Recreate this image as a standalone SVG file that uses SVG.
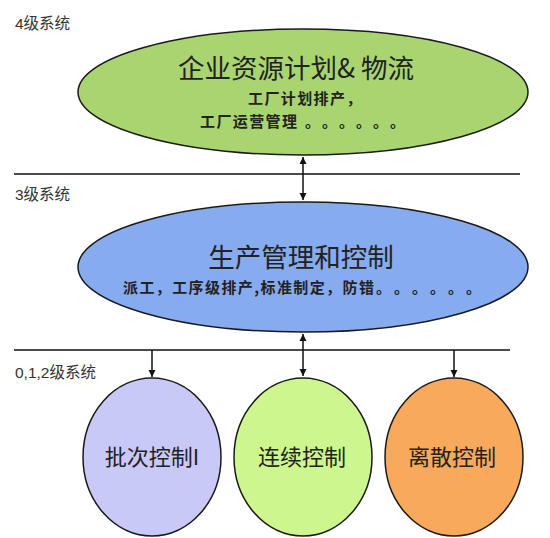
<svg xmlns="http://www.w3.org/2000/svg" width="550" height="538" viewBox="0 0 550 538">
<style>
.lvl{font-family:"Liberation Sans","Noto Sans CJK SC",sans-serif;font-size:15.5px;fill:#333}
.node{stroke:#1a1a1a;stroke-width:1.5}
.t{font-family:"Noto Sans CJK SC",sans-serif;fill:#222;text-anchor:middle}
.s{font-family:"Noto Sans CJK SC",sans-serif;fill:#222;font-size:15px;font-weight:bold;letter-spacing:1.4px}
.big{font-size:26.5px}
.circ{font-size:22px}
.sep{stroke:#111;stroke-width:1.5}
.con{stroke:#111;stroke-width:1.5;fill:none}
</style>
<defs>
<marker id="ah" viewBox="0 0 10 10" refX="10" refY="5" markerWidth="7" markerHeight="8" orient="auto-start-reverse" markerUnits="userSpaceOnUse">
<path d="M0,0 L10,5 L0,10 z" fill="#111"/>
</marker>
</defs>
<rect width="550" height="538" fill="#fff"/>
<g id="levels">
<text class="lvl" x="15" y="29">4级系统</text>
<text class="lvl" x="15" y="200">3级系统</text>
<text class="lvl" x="15" y="378">0,1,2级系统</text>
<line class="sep" x1="14" y1="174" x2="520" y2="174"/>
<line class="sep" x1="14" y1="350" x2="510" y2="350"/>
</g>
<g id="connectors">
<line class="con" x1="303" y1="157" x2="303" y2="200" marker-start="url(#ah)" marker-end="url(#ah)"/>
<line class="con" x1="303" y1="334" x2="303" y2="376" marker-start="url(#ah)" marker-end="url(#ah)"/>
<line class="con" x1="152" y1="350" x2="152" y2="377" marker-end="url(#ah)"/>
<line class="con" x1="454" y1="350" x2="454" y2="377" marker-end="url(#ah)"/>
</g>
<g id="erp">
<ellipse class="node" cx="303" cy="92" rx="225" ry="63" fill="#a9d571"/>
<text class="t big" x="296" y="78">企业资源计划&amp; 物流</text>
<text class="s" x="248" y="104">工厂计划排产，</text>
<text class="s" x="200" y="127">工厂运营管理<tspan x="305">。</tspan><tspan x="322">。</tspan><tspan x="339">。</tspan><tspan x="356">。</tspan><tspan x="373">。</tspan><tspan x="390">。</tspan></text>
</g>
<g id="mes">
<ellipse class="node" cx="303" cy="267" rx="225" ry="65" fill="#87abef"/>
<text class="t big" x="301" y="267">生产管理和控制</text>
<text class="s" x="123" y="293">派工，工序级排产,标准制定，防错<tspan x="376">。</tspan><tspan x="394">。</tspan><tspan x="412">。</tspan><tspan x="430">。</tspan><tspan x="448">。</tspan><tspan x="466">。</tspan></text>
</g>
<g id="batch">
<ellipse class="node" cx="152" cy="457" rx="69" ry="79" fill="#c8c9f7"/>
<text class="t circ" x="152" y="465">批次控制I</text>
</g>
<g id="continuous">
<ellipse class="node" cx="303" cy="457" rx="69" ry="79" fill="#cdf68f"/>
<text class="t circ" x="302" y="465">连续控制</text>
</g>
<g id="discrete">
<ellipse class="node" cx="454" cy="457" rx="69" ry="79" fill="#f8a95c"/>
<text class="t circ" x="452" y="465">离散控制</text>
</g>
</svg>
